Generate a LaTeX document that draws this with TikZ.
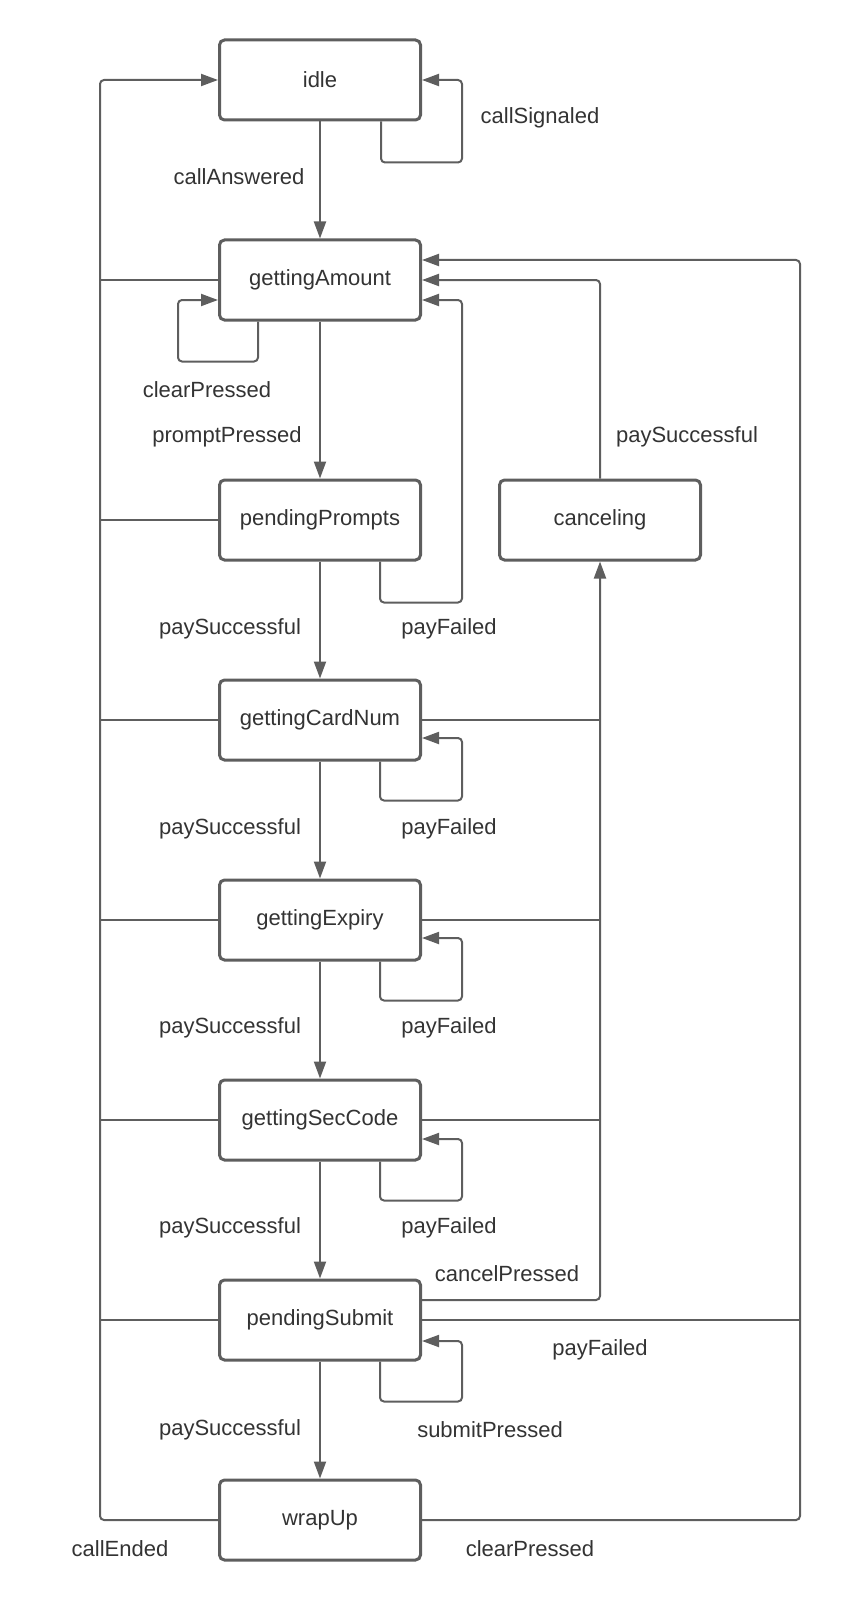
\documentclass[tikz,border=0pt]{standalone}
\usepackage{fontspec}
\setmainfont{Liberation Sans}
\usetikzlibrary{arrows.meta}
\definecolor{edge}{HTML}{5E5E5E}
\definecolor{ink}{HTML}{333333}
\begin{document}
\begin{tikzpicture}[x=1pt,y=-1pt,
  state/.style={draw=edge, line width=3pt, rounded corners=5pt, fill=white,
    minimum width=201pt, minimum height=80pt, inner sep=0pt,
    text=ink, font=\fontsize{22}{26}\selectfont},
  wire/.style={draw=edge, line width=2pt, rounded corners=4pt},
  conn/.style={wire, -{Triangle[length=17pt,width=12pt]}},
  lbl/.style={text=ink, font=\fontsize{22}{26}\selectfont, inner sep=0pt}]
\useasboundingbox (0,0) rectangle (840,1613);

% states
\node[state] (idle)      at (320,80)   {idle};
\node[state] (amount)    at (320,280)  {gettingAmount};
\node[state] (prompts)   at (320,520)  {pendingPrompts};
\node[state] (canceling) at (600,520)  {canceling};
\node[state] (cardnum)   at (320,720)  {gettingCardNum};
\node[state] (expiry)    at (320,920)  {gettingExpiry};
\node[state] (seccode)   at (320,1120) {gettingSecCode};
\node[state] (submit)    at (320,1320) {pendingSubmit};
\node[state] (wrapup)    at (320,1520) {wrapUp};

% bends of the long return lines
\coordinate (lt) at (100,80);
\coordinate (rb) at (800,1520);

% main chain
\draw[conn] (idle.south) -- (amount.north);
\draw[conn] (amount.south) -- (prompts.north);
\draw[conn] (prompts.south) -- (cardnum.north);
\draw[conn] (cardnum.south) -- (expiry.north);
\draw[conn] (expiry.south) -- (seccode.north);
\draw[conn] (seccode.south) -- (submit.north);
\draw[conn] (submit.south) -- (wrapup.north);

% self loops
\draw[conn] ([xshift=61pt]idle.south) -- ++(0,-41pt) -| ([xshift=40pt]idle.east) -- (idle.east);
\draw[conn] ([xshift=-62pt]amount.south) -- ++(0,-40pt) -| ([xshift=-40pt,yshift=-20pt]amount.west) -- ([yshift=-20pt]amount.west);
\draw[conn] ([xshift=60pt]cardnum.south) -- ++(0,-39pt) -| ([xshift=40pt,yshift=-18pt]cardnum.east) -- ([yshift=-18pt]cardnum.east);
\draw[conn] ([xshift=60pt]expiry.south) -- ++(0,-39pt) -| ([xshift=40pt,yshift=-18pt]expiry.east) -- ([yshift=-18pt]expiry.east);
\draw[conn] ([xshift=60pt]seccode.south) -- ++(0,-39pt) -| ([xshift=40pt,yshift=-19pt]seccode.east) -- ([yshift=-19pt]seccode.east);
\draw[conn] ([xshift=60pt]submit.south) -- ++(0,-40pt) -| ([xshift=40pt,yshift=-21pt]submit.east) -- ([yshift=-21pt]submit.east);

% payFailed from pendingPrompts back to gettingAmount
\draw[conn] ([xshift=60pt]prompts.south) -- ++(0,-41pt) -| ([xshift=40pt,yshift=-20pt]amount.east) -- ([yshift=-20pt]amount.east);

% canceling back to gettingAmount
\draw[conn] (canceling.north) |- (amount.east);

% cancel line into canceling
\draw[conn] ([yshift=20pt]submit.east) -| (canceling.south);
\draw[wire] (cardnum.east) -- (cardnum.east -| canceling.south);
\draw[wire] (expiry.east) -- (expiry.east -| canceling.south);
\draw[wire] (seccode.east) -- (seccode.east -| canceling.south);

% outer return to gettingAmount
\draw[conn] (wrapup.east) -- (rb) |- ([yshift=20pt]amount.east);
\draw[wire] (submit.east) -- (submit.east -| rb);

% left return to idle
\draw[conn] (wrapup.west) -| (lt) -- (idle.west);
\draw[wire] (amount.west) -- (amount.west -| lt);
\draw[wire] (prompts.west) -- (prompts.west -| lt);
\draw[wire] (cardnum.west) -- (cardnum.west -| lt);
\draw[wire] (expiry.west) -- (expiry.west -| lt);
\draw[wire] (seccode.west) -- (seccode.west -| lt);
\draw[wire] (submit.west) -- (submit.west -| lt);

% event labels
\node[lbl] (l1)  at (540,118)  {callSignaled};
\node[lbl] (l2)  at (239,177)  {callAnswered};
\node[lbl] (l3)  at (207,390)  {clearPressed};
\node[lbl] (l4)  at (227,437)  {promptPressed};
\node[lbl] (l5)  at (687,437)  {paySuccessful};
\node[lbl] (l6)  at (230,629)  {paySuccessful};
\node[lbl] (l7)  at (449,629)  {payFailed};
\node[lbl] (l8)  at (230,829)  {paySuccessful};
\node[lbl] (l9)  at (449,829)  {payFailed};
\node[lbl] (l10) at (230,1028) {paySuccessful};
\node[lbl] (l11) at (449,1028) {payFailed};
\node[lbl] (l12) at (230,1228) {paySuccessful};
\node[lbl] (l13) at (449,1228) {payFailed};
\node[lbl] (l14) at (507,1274) {cancelPressed};
\node[lbl] (l15) at (600,1350) {payFailed};
\node[lbl] (l16) at (230,1430) {paySuccessful};
\node[lbl] (l17) at (490,1430) {submitPressed};
\node[lbl] (l18) at (120,1549) {callEnded};
\node[lbl] (l19) at (530,1549) {clearPressed};
\end{tikzpicture}
\end{document}
